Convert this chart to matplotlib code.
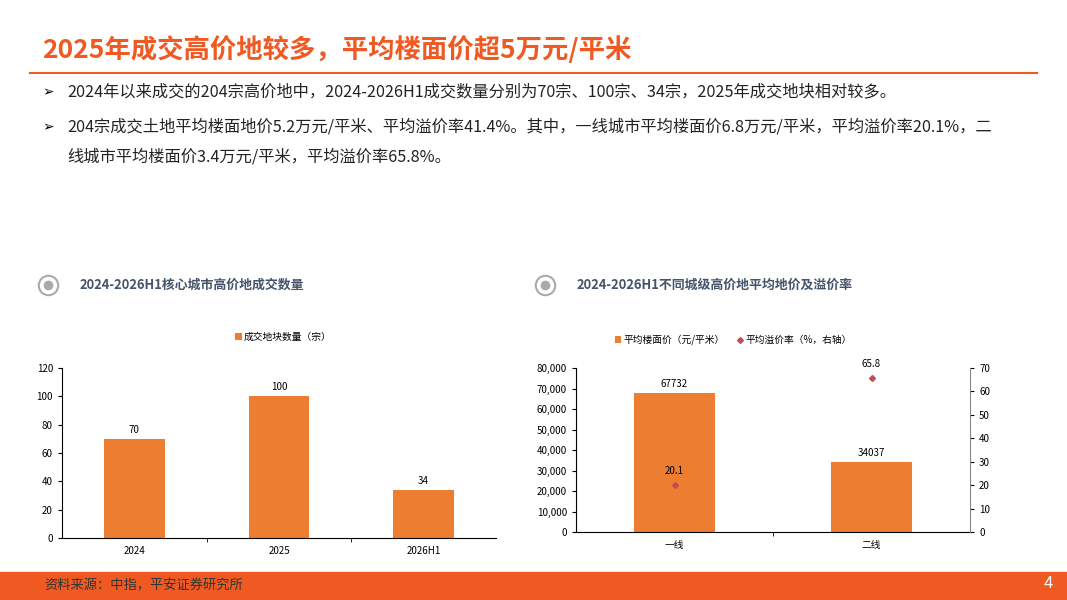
import matplotlib
matplotlib.use("Agg")
import matplotlib.pyplot as plt
from matplotlib.patches import Rectangle
from matplotlib.lines import Line2D

plt.rcParams['font.family'] = ['Noto Sans CJK SC', 'DejaVu Sans']

years = ["2024", "2025", "2026H1"]
counts = [70, 100, 34]
tiers = ["一线", "二线"]
avg_price = [67732, 34037]
premium = [20.1, 65.8]

ORANGE = "#ED7D31"
RED = "#F05A22"
W, H = 1067, 600

fig = plt.figure(figsize=(W / 100, H / 100), dpi=100)


def fx(px):
    return px / W


def fy(py):
    return 1 - py / H


# header
fig.text(fx(42), fy(50), "2025年成交高价地较多，平均楼面价超5万元/平米", fontsize=19,
         fontweight="bold", color=RED, va="center")
fig.add_artist(Line2D([fx(30), fx(1037)], [fy(73), fy(73)], color=RED, lw=1.5))
bullets = [
    (92, "2024年以来成交的204宗高价地中，2024-2026H1成交数量分别为70宗、100宗、34宗，2025年成交地块相对较多。"),
    (127, "204宗成交土地平均楼面地价5.2万元/平米、平均溢价率41.4%。其中，一线城市平均楼面价6.8万元/平米，平均溢价率20.1%，二"),
]
for y, t in bullets:
    fig.text(fx(42), fy(y), "➢", fontsize=10, va="center", family=["DejaVu Sans"])
    fig.text(fx(67), fy(y), t, fontsize=11.7, va="center", color="#222222")
fig.text(fx(67), fy(157), "线城市平均楼面价3.4万元/平米，平均溢价率65.8%。", fontsize=11.7, va="center", color="#222222")

# section titles
for cx, tx, t in [(48, 80, "2024-2026H1核心城市高价地成交数量"),
                  (545, 577, "2024-2026H1不同城级高价地平均地价及溢价率")]:
    fig.add_artist(Line2D([fx(cx)], [fy(285)], marker="o", ms=14, mfc="white",
                          mec="#AAAAAA", mew=1.5))
    fig.add_artist(Line2D([fx(cx)], [fy(285)], marker="o", ms=7, mfc="#AAAAAA", mec="none"))
    fig.text(fx(tx), fy(285), t, fontsize=9.3, fontweight="bold", color="#44546A", va="center")

# left chart
ax1 = fig.add_axes([fx(62), fy(538), fx(496 - 62), fy(368) - fy(538)])
b = ax1.bar(years, counts, width=0.42, color=ORANGE, label="成交地块数量（宗）")
ax1.bar_label(b, padding=3, fontsize=7)
ax1.set_ylim(0, 120)
ax1.set_yticks(range(0, 121, 20))
ax1.set_xlim(-0.5, 2.5)
ax1.set_xticks([0.5, 1.5], minor=True)
for s in ["top", "right"]:
    ax1.spines[s].set_visible(False)
ax1.tick_params(labelsize=7, length=3)
ax1.tick_params(axis="x", which="major", length=0, pad=6)
ax1.tick_params(axis="x", which="minor", length=3)
fig.legend(handles=[b], loc="center", bbox_to_anchor=(fx(283), fy(337)), frameon=False,
           fontsize=7, handlelength=0.7, handleheight=0.7, handletextpad=0.2)

# right chart
ax2 = fig.add_axes([fx(576), fy(532), fx(970 - 576), fy(368) - fy(532)])
b2 = ax2.bar(tiers, avg_price, width=0.41, color=ORANGE, label="平均楼面价（元/平米）")
ax2.bar_label(b2, padding=3, fontsize=7)
ax2.set_ylim(0, 80000)
ax2.set_yticks(range(0, 80001, 10000))
ax2.set_yticklabels([f"{v:,}" for v in range(0, 80001, 10000)])
ax2.set_xlim(-0.5, 1.5)
ax2.set_xticks([0.5], minor=True)
ax2.spines["top"].set_visible(False)
ax2.spines["right"].set_visible(False)
ax2.tick_params(labelsize=7, length=3)
ax2.tick_params(axis="x", which="major", length=0, pad=6)
ax2.tick_params(axis="x", which="minor", length=3)
ax3 = ax2.twinx()
sc, = ax3.plot(tiers, premium, "D", ms=3, color="#C0504D", ls="none", label="平均溢价率（%，右轴）")
for i, v in enumerate(premium):
    ax3.annotate(f"{v}", (i, v), xytext=(0, 8), textcoords="offset points",
                 ha="center", fontsize=7)
ax3.set_ylim(0, 70)
ax3.set_yticks(range(0, 71, 10))
ax3.spines["top"].set_visible(False)
ax3.spines["left"].set_visible(False)
ax3.spines["bottom"].set_visible(False)
ax3.spines["right"].set_color("#888888")
ax3.tick_params(labelsize=7, length=3)
fig.legend(handles=[b2, sc], loc="center", bbox_to_anchor=(fx(733), fy(340)), frameon=False,
           fontsize=7, ncol=2, handlelength=0.7, handleheight=0.7, handletextpad=0.2,
           columnspacing=1.2)

# footer
fig.add_artist(Rectangle((0, 0), 1, fy(572), transform=fig.transFigure, color=RED, zorder=0))
fig.text(fx(44), fy(586), "资料来源：中指，平安证券研究所", fontsize=9.5, color="#333333", va="center")
fig.text(fx(1048), fy(584), "4", fontsize=12, color="white", va="center", ha="center")

fig.savefig("out.png", dpi=100)
